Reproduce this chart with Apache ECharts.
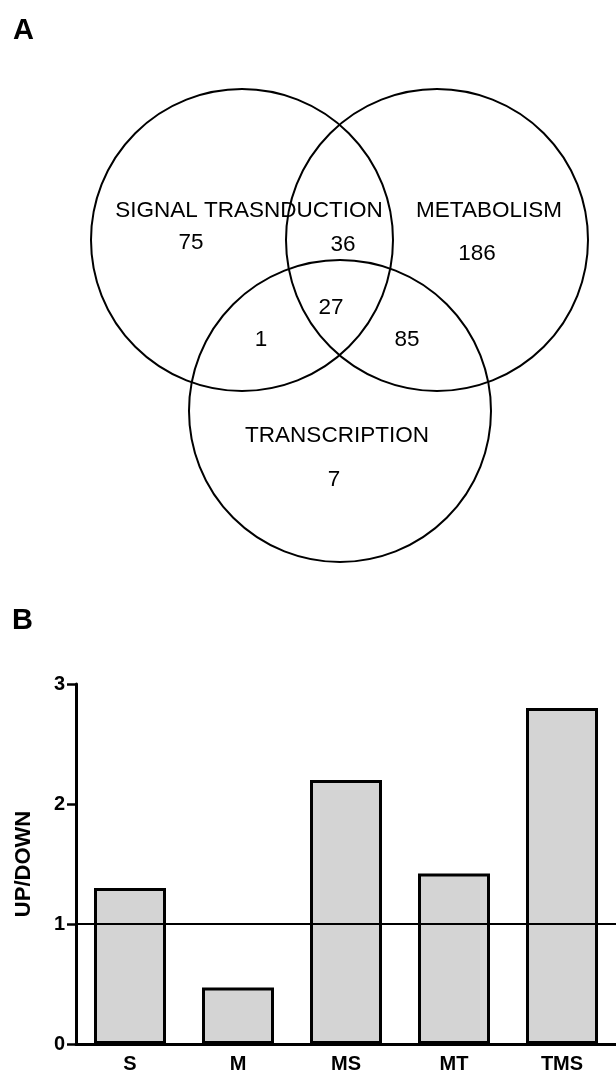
<!DOCTYPE html>
<html>
<head>
<meta charset="utf-8">
<script src="https://cdn.jsdelivr.net/npm/echarts@6/dist/echarts.min.js"></script>
<style>
  html, body { margin: 0; padding: 0; background: #fff; }
  #chart { width: 616px; height: 1077px; }
</style>
</head>
<body>
<div id="chart"></div>
<script>
// panel B data
const barCategories = ['S', 'M', 'MS', 'MT', 'TMS']
const barValues = [1.3, 0.47, 2.2, 1.42, 2.8]
const yTickLabels = ['0', '1', '2', '3']
const refValue = 1

// panel A data
const vennSets = ['SIGNAL TRASNDUCTION', 'METABOLISM', 'TRANSCRIPTION']
const vennRegions = ['S', 'M', 'T', 'SM', 'ST', 'MT', 'SMT']
const vennCounts = [75, 186, 7, 36, 1, 85, 27]

// layout of the venn (pixel units of the hidden grid)
const circleCenters = { S: [242, 240], M: [437, 240], T: [340, 411] }
const circleSize = 302
const setLabelPos = [[249, 211], [489, 211], [337, 436]]
const regionPos = {
  S: [191, 243], M: [477, 254], T: [334, 480],
  SM: [343, 245], ST: [261, 340], MT: [407, 340], SMT: [331, 308]
}

const font = 'Liberation Sans, Arial, Helvetica, sans-serif'
const chart = echarts.init(document.getElementById('chart'))

const option = {
  animation: false,
  backgroundColor: '#fff',
  textStyle: { fontFamily: font },
  title: [
    { text: 'A', left: 8, top: 11, textStyle: { fontSize: 29, fontWeight: 'bold', color: '#000', fontFamily: font } },
    { text: 'B', left: 7, top: 601, textStyle: { fontSize: 29, fontWeight: 'bold', color: '#000', fontFamily: font } }
  ],
  grid: [
    { left: 76, top: 684, width: 540, height: 360 },
    { left: 0, top: 0, width: 616, height: 616 }
  ],
  xAxis: [
    {
      type: 'category',
      gridIndex: 0,
      data: barCategories,
      axisLine: { lineStyle: { color: '#000', width: 3 } },
      axisTick: { show: false },
      axisLabel: { color: '#000', fontWeight: 'bold', fontSize: 20, margin: 10, fontFamily: font }
    },
    { type: 'value', gridIndex: 1, min: 0, max: 616, show: false }
  ],
  yAxis: [
    {
      type: 'value',
      gridIndex: 0,
      min: 0,
      max: yTickLabels.length - 1,
      interval: 1,
      name: 'UP/DOWN',
      nameLocation: 'middle',
      nameRotate: 90,
      nameGap: 41,
      nameTextStyle: { color: '#000', fontWeight: 'bold', fontSize: 22, fontFamily: font },
      axisLine: { show: true, lineStyle: { color: '#000', width: 3 } },
      axisTick: { show: true, length: 9, lineStyle: { color: '#000', width: 2.5 } },
      axisLabel: {
        color: '#000', fontWeight: 'bold', fontSize: 20, margin: 11, fontFamily: font,
        formatter: (v) => yTickLabels[v]
      },
      splitLine: { show: false }
    },
    { type: 'value', gridIndex: 1, min: 0, max: 616, inverse: true, show: false }
  ],
  series: [
    {
      type: 'bar',
      xAxisIndex: 0,
      yAxisIndex: 0,
      data: barValues,
      barWidth: 72,
      itemStyle: { color: '#d4d4d4', borderColor: '#000', borderWidth: 3 },
      markLine: {
        silent: true,
        symbol: 'none',
        label: { show: false },
        lineStyle: { color: '#000', width: 2, type: 'solid' },
        data: [{ yAxis: refValue }]
      }
    },
    {
      // circles
      type: 'scatter',
      xAxisIndex: 1,
      yAxisIndex: 1,
      symbol: 'circle',
      symbolSize: circleSize,
      silent: true,
      itemStyle: { color: 'rgba(0,0,0,0)', borderColor: '#000', borderWidth: 2, opacity: 1 },
      data: ['S', 'M', 'T'].map((k, i) => ({ name: vennSets[i], value: circleCenters[k] }))
    },
    {
      // set names
      type: 'scatter',
      xAxisIndex: 1,
      yAxisIndex: 1,
      symbolSize: 1,
      silent: true,
      itemStyle: { color: 'rgba(0,0,0,0)', opacity: 1 },
      label: {
        show: true, position: 'inside', color: '#000', fontSize: 22.5, fontFamily: font,
        formatter: (p) => p.name
      },
      data: vennSets.map((s, i) => ({ name: s, value: setLabelPos[i] }))
    },
    {
      // region counts
      type: 'scatter',
      xAxisIndex: 1,
      yAxisIndex: 1,
      symbolSize: 1,
      silent: true,
      itemStyle: { color: 'rgba(0,0,0,0)', opacity: 1 },
      label: {
        show: true, position: 'inside', color: '#000', fontSize: 22.5, fontFamily: font,
        formatter: (p) => String(vennCounts[p.dataIndex])
      },
      data: vennRegions.map((r) => ({ name: r, value: regionPos[r] }))
    }
  ]
}

chart.setOption(option)
</script>
</body>
</html>
